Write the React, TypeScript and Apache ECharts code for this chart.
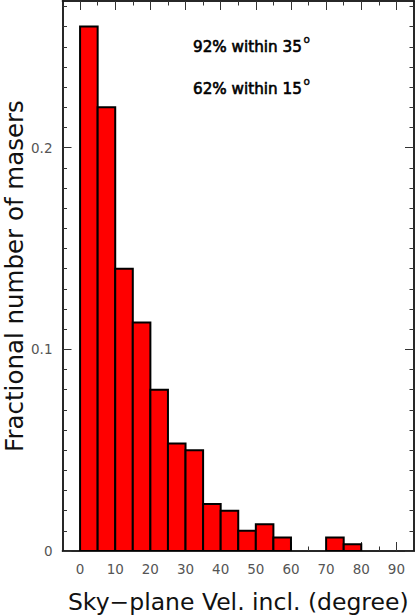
import React, { useEffect, useRef } from "react";
import * as echarts from "echarts";

// Histogram bins (degrees) and fractional numbers
const binStarts = [0, 5, 10, 15, 20, 25, 30, 35, 40, 45, 50, 55, 60, 65, 70, 75, 80, 85];
const binWidth = 5;
const fractions = [
  0.26, 0.22, 0.14, 0.1133, 0.08, 0.0533, 0.05, 0.0233, 0.02, 0.01, 0.0133, 0.0067, 0, 0, 0.0067,
  0.0033, 0, 0,
];

const xMajorTicks = [0, 10, 20, 30, 40, 50, 60, 70, 80, 90];
const xMinorTicks = [5, 15, 25, 35, 45, 55, 65, 75, 85];
const yMajorTicks = [0, 0.1, 0.2];
const yMinorTicks = [
  0.01, 0.02, 0.03, 0.04, 0.05, 0.06, 0.07, 0.08, 0.09, 0.11, 0.12, 0.13, 0.14, 0.15, 0.16, 0.17,
  0.18, 0.19, 0.21, 0.22, 0.23, 0.24, 0.25, 0.26, 0.27,
];

const annotations = ["92% within 35", "62% within 15"];

const xTitle = "Sky\u2212plane Vel. incl. (degree)";
const yTitle = "Fractional number of masers";

const X_MIN = -5;
const X_MAX = 95;
const Y_MIN = 0;
const Y_MAX = 0.2727;

const FONT = "'DejaVu Sans', Verdana, sans-serif";
const FRAME = "#1a1a1a";
const TICK = "#333";

export default function App() {
  const ref = useRef<HTMLDivElement>(null);

  useEffect(() => {
    if (!ref.current) return;
    const chart = echarts.init(ref.current, null, { renderer: "svg" });

    const baseX = {
      type: "value" as const,
      min: X_MIN,
      max: X_MAX,
      splitLine: { show: false },
      axisLine: { show: true, onZero: false, lineStyle: { color: FRAME, width: 1.5 } },
    };
    const baseY = {
      type: "value" as const,
      min: Y_MIN,
      max: Y_MAX,
      splitLine: { show: false },
      axisLine: { show: true, onZero: false, lineStyle: { color: FRAME, width: 1.5 } },
    };

    const annot = (text: string, y: number) => [
      {
        type: "text",
        x: 193,
        y,
        silent: true,
        style: {
          text,
          fontSize: 15.2,
          fontFamily: FONT,
          fill: "#000",
          stroke: "#000",
          lineWidth: 0.6,
        },
      },
      {
        type: "text",
        x: 303.5,
        y: y - 5.5,
        silent: true,
        style: {
          text: "o",
          fontSize: 10.5,
          fontFamily: FONT,
          fill: "#000",
          stroke: "#000",
          lineWidth: 0.4,
        },
      },
    ];

    const option: any = {
      animation: false,
      backgroundColor: "#ffffff",
      textStyle: { fontFamily: FONT },
      grid: {
        left: 62.5,
        right: 1,
        top: 1,
        bottom: 65,
        containLabel: false,
        outerBoundsMode: "none",
      },
      xAxis: [
        {
          ...baseX,
          position: "bottom",
          axisTick: {
            show: true,
            inside: true,
            length: 9,
            customValues: xMajorTicks,
            lineStyle: { color: TICK, width: 1 },
          },
          axisLabel: {
            show: true,
            customValues: xMajorTicks,
            color: "#555",
            fontSize: 13.5,
            fontFamily: FONT,
            margin: 11,
          },
          name: xTitle,
          nameLocation: "middle",
          nameGap: 39,
          nameMoveOverlap: false,
          nameTextStyle: { fontSize: 23.5, color: "#111", fontFamily: FONT },
        },
        {
          ...baseX,
          position: "bottom",
          axisTick: {
            show: true,
            inside: true,
            length: 4.5,
            customValues: xMinorTicks,
            lineStyle: { color: TICK, width: 1 },
          },
          axisLabel: { show: false },
        },
        {
          ...baseX,
          position: "top",
          axisTick: {
            show: true,
            inside: true,
            length: 9,
            customValues: xMajorTicks,
            lineStyle: { color: TICK, width: 1 },
          },
          axisLabel: { show: false },
        },
        {
          ...baseX,
          position: "top",
          axisTick: {
            show: true,
            inside: true,
            length: 4.5,
            customValues: xMinorTicks,
            lineStyle: { color: TICK, width: 1 },
          },
          axisLabel: { show: false },
        },
      ],
      yAxis: [
        {
          ...baseY,
          position: "left",
          axisTick: {
            show: true,
            inside: true,
            length: 9,
            customValues: yMajorTicks,
            lineStyle: { color: TICK, width: 1 },
          },
          axisLabel: {
            show: true,
            customValues: yMajorTicks,
            color: "#555",
            fontSize: 13.5,
            fontFamily: FONT,
            margin: 10,
            formatter: (v: number) => (v === 0 ? "0" : String(Math.round(v * 10) / 10)),
          },
          name: yTitle,
          nameLocation: "middle",
          nameRotate: 90,
          nameGap: 36,
          nameMoveOverlap: false,
          nameTextStyle: { fontSize: 24.5, lineHeight: 24.5, color: "#111", fontFamily: FONT },
        },
        {
          ...baseY,
          position: "left",
          axisTick: {
            show: true,
            inside: true,
            length: 4.5,
            customValues: yMinorTicks,
            lineStyle: { color: TICK, width: 1 },
          },
          axisLabel: { show: false },
        },
        {
          ...baseY,
          position: "right",
          axisTick: {
            show: true,
            inside: true,
            length: 9,
            customValues: yMajorTicks,
            lineStyle: { color: TICK, width: 1 },
          },
          axisLabel: { show: false },
        },
        {
          ...baseY,
          position: "right",
          axisTick: {
            show: true,
            inside: true,
            length: 4.5,
            customValues: yMinorTicks,
            lineStyle: { color: TICK, width: 1 },
          },
          axisLabel: { show: false },
        },
      ],
      series: [
        {
          type: "custom",
          xAxisIndex: 0,
          yAxisIndex: 0,
          clip: true,
          data: binStarts.map((s, i) => [s, s + binWidth, fractions[i]]),
          renderItem: (params: any, api: any) => {
            const x0 = api.value(0);
            const x1 = api.value(1);
            const v = api.value(2);
            if (!v) return null;
            const p0 = api.coord([x0, v]);
            const p1 = api.coord([x1, 0]);
            return {
              type: "rect",
              shape: { x: p0[0], y: p0[1], width: p1[0] - p0[0], height: p1[1] - p0[1] },
              style: { fill: "#ff0000", stroke: "#000000", lineWidth: 2 },
            };
          },
        },
      ],
      graphic: [...annot(annotations[0], 39), ...annot(annotations[1], 81)],
    };

    chart.setOption(option);
    return () => chart.dispose();
  }, []);

  return (
    <div
      ref={ref}
      style={{ position: "fixed", left: 0, top: 0, width: 415, height: 616, background: "#fff" }}
    />
  );
}
